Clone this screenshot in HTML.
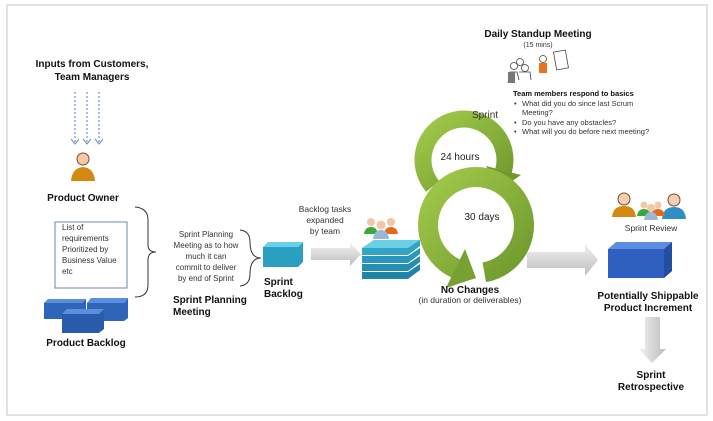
<!DOCTYPE html>
<html><head><style>
html,body{margin:0;padding:0;background:#fff;}
svg{display:block;font-family:"Liberation Sans",sans-serif;}
.b{font-weight:bold;font-size:10px;fill:#111;}
.s{font-size:8px;fill:#333;}
</style></head><body>
<svg width="713" height="421" viewBox="0 0 713 421">
<defs>
<linearGradient id="g" x1="0" y1="0" x2="1" y2="1"><stop offset="0" stop-color="#a2c94a"/><stop offset="1" stop-color="#6e9a2e"/></linearGradient>
<linearGradient id="ga" x1="0" y1="0" x2="0" y2="1"><stop offset="0" stop-color="#f2f2f2"/><stop offset="1" stop-color="#bcbcbc"/></linearGradient>
<linearGradient id="gv" x1="0" y1="0" x2="1" y2="0"><stop offset="0" stop-color="#f2f2f2"/><stop offset="1" stop-color="#bcbcbc"/></linearGradient>
</defs>
<rect x="0" y="0" width="713" height="421" fill="#fff"/>
<rect x="7" y="5" width="700" height="410" fill="#fff" stroke="#d8d8d8" stroke-width="1.5"/>

<text class="b" x="92" y="67" text-anchor="middle">Inputs from Customers,</text>
<text class="b" x="92" y="80" text-anchor="middle">Team Managers</text>
<g stroke="#5b7fb5" stroke-width="1" stroke-dasharray="2,2" fill="none">
<line x1="75" y1="92" x2="75" y2="143"/><line x1="87" y1="92" x2="87" y2="143"/><line x1="99" y1="92" x2="99" y2="143"/>
</g>
<g stroke="#5b7fb5" stroke-width="1" fill="none">
<polyline points="71,139 75,144 79,139"/><polyline points="83,139 87,144 91,139"/><polyline points="95,139 99,144 103,139"/>
</g>
<circle cx="83" cy="159" r="6" fill="#f3c9a6" stroke="#8a4a2a" stroke-width="1"/>
<path d="M71 181 Q72 168 83 167 Q94 168 95 181 Z" fill="#d48a12"/>
<text class="b" x="83" y="201" text-anchor="middle">Product Owner</text>

<rect x="55" y="222" width="72" height="66" fill="#fff" stroke="#6b84b2" stroke-width="1"/>
<g class="s"><text x="62" y="230">List of</text><text x="62" y="241">requirements</text><text x="62" y="252">Prioritized by</text><text x="62" y="263">Business Value</text><text x="62" y="274">etc</text></g>
<path d="M135 207 Q148 208 148 220 L148 245 Q148 252 156 252 Q148 252 148 260 L148 285 Q148 297 135 297" fill="none" stroke="#333" stroke-width="1"/>

<g>
<polygon points="44,303 82,303 86,299 86,315 82,319 44,319" fill="#2f64b8"/>
<polygon points="44,303 48,299 86,299 82,303" fill="#5a8fdb"/>
<polygon points="87,303 124,303 128,298 128,318 124,321 87,321" fill="#2f64b8"/>
<polygon points="87,303 91,298 128,298 124,303" fill="#5a8fdb"/>
<polygon points="62,314 99,314 104,309 104,329 99,333 62,333" fill="#2a5cae"/>
<polygon points="62,314 67,309 104,309 99,314" fill="#5a8fdb"/>
</g>
<text class="b" x="86" y="346" text-anchor="middle">Product Backlog</text>

<g class="s" text-anchor="middle"><text x="206" y="237">Sprint Planning</text><text x="206" y="248">Meeting as to how</text><text x="206" y="259">much it can</text><text x="206" y="270">commit to deliver</text><text x="206" y="281">by end of Sprint</text></g>
<path d="M240 230 Q250 231 250 242 Q250 258 261 258 Q250 258 250 274 Q250 285 240 286" fill="none" stroke="#333" stroke-width="1"/>
<text class="b" x="173" y="303">Sprint Planning</text><text class="b" x="173" y="315">Meeting</text>

<polygon points="263,247 298,247 303,242 303,262 298,267 263,267" fill="#2a9fc0"/>
<polygon points="263,247 268,242 303,242 298,247" fill="#6cd0ea"/>
<text class="b" x="264" y="285">Sprint</text><text class="b" x="264" y="297">Backlog</text>

<g class="s" text-anchor="middle" style="font-size:8.5px"><text x="325" y="212">Backlog tasks</text><text x="325" y="223">expanded</text><text x="325" y="234">by team</text></g>
<polygon points="311,248 350,248 350,243 361,254 350,266 350,260 311,260" fill="url(#ga)"/>

<g>
<polygon points="362,272 408,272 420,264 420,270 408,279 362,279" fill="#1e84a8"/>
<polygon points="362,264 408,264 420,256 420,262 408,271 362,271" fill="#248eb2"/>
<polygon points="362,256 408,256 420,248 420,254 408,263 362,263" fill="#2a98bb"/>
<polygon points="362,248 374,240 420,240 420,246 408,255 362,255" fill="#2fa4c6"/>
<polygon points="362,248 374,240 420,240 408,248" fill="#6bcfe6"/>
</g>
<circle cx="371" cy="222" r="4" fill="#f0c8a8"/><path d="M364 234 Q365 227 371 227 Q377 227 378 234Z" fill="#3aa83a"/>
<circle cx="391" cy="222" r="4" fill="#f0c8a8"/><path d="M384 234 Q385 227 391 227 Q397 227 398 234Z" fill="#e56a1a"/>
<circle cx="381" cy="225" r="4.5" fill="#f0c8a8"/><path d="M373 239 Q374 230 381 230 Q388 230 389 239Z" fill="#9ab8d6"/>

<!-- loops -->
<path d="M432.6 186.4 A41 41 0 1 1 503.6 170.6" fill="none" stroke="url(#g)" stroke-width="17"/>
<polygon points="521,175 486,166 499,190" fill="#6e9a2e"/>
<path d="M484.3 272.3 A48 48 0 1 0 455.7 268.5" fill="none" stroke="url(#g)" stroke-width="20"/>
<polygon points="465,249 446,288 476,278" fill="#77a232"/>

<text x="485" y="118" text-anchor="middle" style="font-size:10px;fill:#333">Sprint</text>
<text x="460" y="160" text-anchor="middle" style="font-size:10px;fill:#222">24 hours</text>
<text x="482" y="220" text-anchor="middle" style="font-size:10px;fill:#222">30 days</text>

<polygon points="527,252 585,252 585,244 598,260 585,276 585,268 527,268" fill="url(#ga)"/>
<text class="b" x="470" y="293" text-anchor="middle">No Changes</text>
<text x="470" y="303" text-anchor="middle" style="font-size:8.5px;fill:#333">(in duration or deliverables)</text>

<text class="b" x="538" y="37" text-anchor="middle">Daily Standup Meeting</text>
<text x="538" y="47" text-anchor="middle" style="font-size:7px;fill:#333">(15 mins)</text>
<g stroke="#444" stroke-width="0.8" fill="none">
<circle cx="520" cy="62" r="3.5"/><circle cx="514" cy="66" r="3.5"/><circle cx="525" cy="68" r="3.5"/>
<path d="M508 83 L510 72 L517 72 L519 80"/><path d="M519 72 L530 72 L531 80"/>
<circle cx="543" cy="59" r="3.5"/>
<rect x="555" y="51" width="12" height="18" transform="rotate(-10 561 60)"/>
</g>
<rect x="508" y="72" width="7" height="11" fill="#777"/>
<rect x="539" y="63" width="8" height="10" fill="#e8731e"/>

<text x="513" y="96" style="font-size:7.5px;font-weight:bold;fill:#111">Team members respond to basics</text>
<g style="font-size:7.5px;fill:#333">
<text x="514" y="106">•</text><text x="522" y="106">What did you do since last Scrum</text>
<text x="522" y="115">Meeting?</text>
<text x="514" y="125">•</text><text x="522" y="125">Do you have any obstacles?</text>
<text x="514" y="134">•</text><text x="522" y="134">What will you do before next meeting?</text>
</g>

<circle cx="624" cy="199" r="6" fill="#f3d0b0" stroke="#7a4a2a" stroke-width="1"/><path d="M612 217 Q613 206 624 206 Q635 206 636 217Z" fill="#d48a12"/>
<circle cx="674" cy="200" r="6" fill="#f3d0b0" stroke="#7a4a2a" stroke-width="1"/><path d="M662 219 Q663 207 674 207 Q685 207 686 219Z" fill="#2f8dc8"/>
<circle cx="644" cy="205" r="3.5" fill="#f0c8a8"/><path d="M637 216 Q638 209 644 209 Q650 209 651 216Z" fill="#3aa83a"/>
<circle cx="658" cy="205" r="3.5" fill="#f0c8a8"/><path d="M651 216 Q652 209 658 209 Q664 209 665 216Z" fill="#e56a1a"/>
<circle cx="651" cy="208" r="4" fill="#f0c8a8"/><path d="M644 220 Q645 212 651 212 Q657 212 658 220Z" fill="#9ab8d6"/>
<text x="651" y="231" text-anchor="middle" style="font-size:8.5px;fill:#333">Sprint Review</text>

<polygon points="608,249 664,249 672,242 672,271 664,278 608,278" fill="#2f5fc0"/>
<polygon points="608,249 616,242 672,242 664,249" fill="#5c8ee0"/>
<polygon points="664,249 672,242 672,271 664,278" fill="#244ea0"/>
<text class="b" x="648" y="299" text-anchor="middle">Potentially Shippable</text>
<text class="b" x="648" y="311" text-anchor="middle">Product Increment</text>

<polygon points="645,317 660,317 660,349 666,349 652,363 639,349 645,349" fill="url(#gv)"/>
<text class="b" x="651" y="378" text-anchor="middle">Sprint</text>
<text class="b" x="651" y="390" text-anchor="middle">Retrospective</text>
</svg>
</body></html>
